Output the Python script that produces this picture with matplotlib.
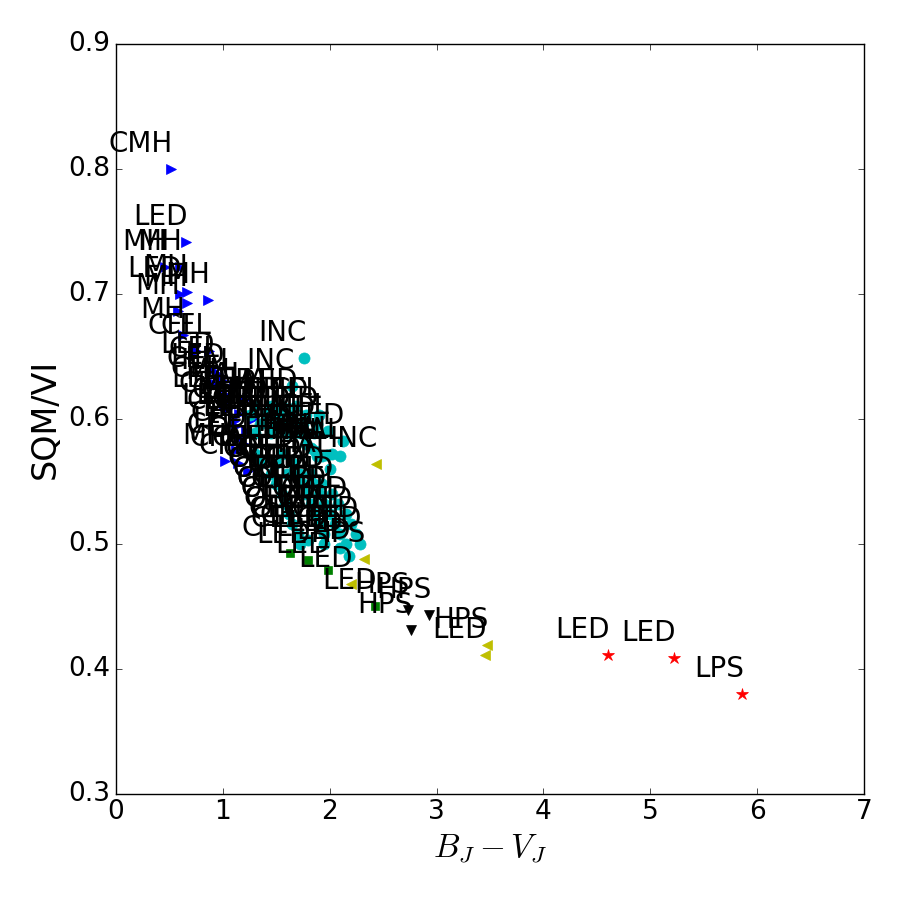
import matplotlib
matplotlib.use('Agg')
import matplotlib.pyplot as plt

plt.style.use('classic')
plt.rcParams['mathtext.fontset'] = 'cm'

# blue right triangles
bx = [0.51, 0.65, 0.60, 0.46, 0.60, 0.66, 0.86, 0.66, 0.58, 0.63, 0.75, 0.87,
      0.90, 0.95, 0.93, 1.00, 1.10, 0.97, 1.05, 1.20, 1.01, 1.04, 1.15, 1.28,
      1.10, 1.12, 1.22, 1.15, 1.20, 1.02, 1.12, 1.14, 1.23]
by = [0.800, 0.742, 0.722, 0.722, 0.700, 0.702, 0.695, 0.693, 0.686, 0.667, 0.654, 0.654,
      0.639, 0.636, 0.628, 0.630, 0.626, 0.620, 0.618, 0.615, 0.612, 0.608, 0.604, 0.600,
      0.598, 0.594, 0.590, 0.585, 0.580, 0.566, 0.575, 0.565, 0.558]
blab = ['CMH', 'LED', 'MH', 'MH', 'LED', 'MH', 'MH', 'MH', 'MH', 'MH', 'CFL', 'CFL',
        'LED', 'CFL', 'CFL', 'LED', 'HAL', 'CFL', 'MH', 'HAL', 'LED', 'CFL', 'MH', 'LED',
        'LED', 'CFL', 'MH', 'CFL', 'LED', 'MH', 'CFL', 'CFL', 'CFL']

# cyan circles
cx = [1.76, 1.65,
      1.30, 1.45, 1.55, 1.68,
      1.25, 1.40, 1.52, 1.65, 1.78, 1.90,
      1.35, 1.50, 1.62, 1.75, 1.88, 1.98,
      1.30, 1.45, 1.60, 1.72, 1.85, 2.12,
      1.78, 1.82, 1.86, 1.88, 1.93, 1.97, 2.02, 2.10, 2.00,
      1.30, 1.55, 1.35, 1.50, 1.65,
      1.45, 1.60, 1.72, 1.82,
      1.50, 1.75, 1.85, 1.93,
      1.55, 1.78, 1.90, 2.02,
      1.58, 1.82, 1.95, 2.08,
      1.62, 1.86, 2.00, 2.15,
      1.65, 1.90, 2.05, 2.20,
      1.70, 1.95, 2.10, 2.25,
      1.72, 1.95, 2.15, 2.28,
      1.80, 2.10, 2.18]
cy = [0.649, 0.626,
      0.610, 0.610, 0.610, 0.610,
      0.603, 0.603, 0.603, 0.603, 0.603, 0.603,
      0.596, 0.596, 0.596, 0.596, 0.596, 0.590,
      0.589, 0.589, 0.589, 0.589, 0.589, 0.582,
      0.580, 0.577, 0.574, 0.570, 0.570, 0.571, 0.572, 0.570, 0.560,
      0.572, 0.572, 0.565, 0.565, 0.565,
      0.556, 0.556, 0.556, 0.556,
      0.548, 0.548, 0.548, 0.548,
      0.540, 0.540, 0.540, 0.540,
      0.532, 0.532, 0.532, 0.532,
      0.524, 0.524, 0.524, 0.524,
      0.516, 0.516, 0.516, 0.516,
      0.508, 0.508, 0.508, 0.508,
      0.500, 0.500, 0.500, 0.500,
      0.503, 0.497, 0.490]
clab = ['INC', 'INC',
        'LED', 'HAL', 'HAL', 'LED',
        'CFL', 'OLED', 'LED', 'CFL', 'OLED', 'CFL',
        'CFL', 'LED', 'OLED', 'CFL', 'OLED', 'CFL',
        'LED', 'CFL', 'HAL', 'CFL', 'OLED', 'OLED',
        'HAL', 'HAL', 'HAL', 'HAL', 'HAL', 'HAL', 'HAL', 'HAL', 'HAL',
        'CFL', 'OLED', 'CFL', 'CFL', 'OLED',
        'CFL', 'CFL', 'OLED', 'OLED',
        'CFL', 'OLED', 'CFL', 'OLED',
        'CFL', 'OLED', 'CFL', 'OLED',
        'CFL', 'OLED', 'OLED', 'CFL',
        'CFL', 'OLED', 'CFL', 'OLED',
        'CFL', 'OLED', 'CFL', 'OLED',
        'CFL', 'OLED', 'CFL', 'OLED',
        'CFL', 'LED', 'CFL', 'LED',
        'CFL', 'LED', 'LED']

# green squares
gx = [1.63, 1.80, 1.98, 2.42]
gy = [0.493, 0.487, 0.479, 0.450]
glab = ['CFL', 'LED', 'LED', 'LED']

# yellow left triangles
yx = [2.43, 2.32, 2.20, 3.47, 3.45]
yy = [0.564, 0.488, 0.468, 0.419, 0.411]
ylab = ['INC', 'HPS', 'LED', 'HPS', 'LED']

# black down triangles
kx = [2.73, 2.93, 2.76]
ky = [0.447, 0.443, 0.431]
klab = ['HPS', 'HPS', 'HPS']

# red stars
rx = [4.60, 5.22, 5.86]
ry = [0.411, 0.409, 0.380]
rlab = ['LED', 'LED', 'LPS']

groups = [
    (bx, by, blab, 'b', '>', 7),
    (cx, cy, clab, 'c', 'o', 8),
    (gx, gy, glab, 'g', 's', 6),
    (yx, yy, ylab, 'y', '<', 7),
    (kx, ky, klab, 'k', 'v', 7),
    (rx, ry, rlab, 'r', '*', 9),
]

fig = plt.figure(figsize=(9, 9), dpi=100, facecolor='white')
ax = fig.add_axes([0.129, 0.118, 0.831, 0.833])

for xs, ys, labs, col, mk, ms in groups:
    ax.plot(xs, ys, linestyle='none', marker=mk, color=col, mec=col, ms=ms)
    for x, y, lab in zip(xs, ys, labs):
        ax.annotate(lab, xy=(x, y), xytext=(2, 17), textcoords='offset pixels',
                    ha='right', va='baseline', fontsize=20)

ax.set_xlim(0, 7)
ax.set_ylim(0.3, 0.9)
ax.set_xticks(range(0, 8))
ax.set_yticks([0.3, 0.4, 0.5, 0.6, 0.7, 0.8, 0.9])
ax.tick_params(labelsize=19)
ax.set_xlabel(r'$B_J - V_J$', fontsize=24)
ax.set_ylabel('SQM/VI', fontsize=24)

fig.savefig('out.png', dpi=100, facecolor='white')
